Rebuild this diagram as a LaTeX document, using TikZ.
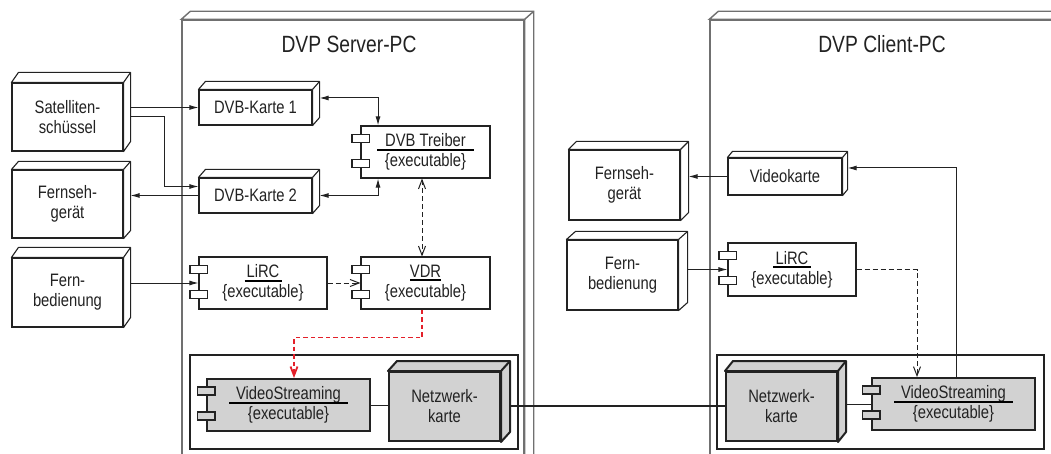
\documentclass[tikz,border=0pt]{standalone}
\usepackage{fontspec}
\setmainfont{Liberation Sans}[FakeStretch=0.82]
\usetikzlibrary{arrows.meta,calc}
\definecolor{ln}{HTML}{222222}
\definecolor{pcgray}{HTML}{707070}
\definecolor{fillgray}{HTML}{D2D2D2}
\definecolor{redl}{HTML}{E3202A}
\newcommand\ulname[2]{\makebox[#1]{#2}\llap{\textcolor{black}{\rule[-4pt]{#1}{2.1pt}}}}
% top and side faces of a 3D box node
\newcommand\cubefaces[4]{%
  \draw[#4] (#1.north west) -- ++(#2pt,#3pt) -- ([shift={(#2pt,#3pt)}]#1.north east)
    -- ([shift={(#2pt,#3pt)}]#1.south east) -- (#1.south east) -- (#1.north east) -- cycle;
  \draw[#4] (#1.north east) -- ++(#2pt,#3pt);}
% the two small port rectangles of a component node
\newcommand\compports[2]{%
  \draw[#2] ([shift={(-8.5pt,-9pt)}]#1.north west) rectangle ++(17.5pt,-8pt);
  \draw[#2] ([shift={(-8.5pt,-34pt)}]#1.north west) rectangle ++(17.5pt,-8pt);}
\begin{document}
\begin{tikzpicture}[x=1pt,y=-1pt,
  every node/.style={font=\fontsize{18}{20}\selectfont, text=ln, align=center},
  box3d/.style={draw=ln, line width=1.1pt, fill=white, inner sep=0pt},
  gbox3d/.style={draw=ln, line width=2pt, fill=fillgray, inner sep=0pt},
  face/.style={draw=ln, line width=1.1pt, fill=white, line join=round},
  gface/.style={draw=ln, line width=2pt, fill=fillgray, line join=round},
  pcface/.style={draw=pcgray, line width=1.4pt, fill=white},
  comp/.style={draw=ln, line width=1.1pt, fill=white, inner sep=0pt, minimum width=129pt, minimum height=52pt},
  gcomp/.style={comp, fill=fillgray, line width=2pt, minimum width=163pt},
  port/.style={draw=ln, line width=1.1pt, fill=white},
  gport/.style={draw=ln, line width=1.8pt, fill=fillgray},
  pcbox/.style={draw=pcgray, line width=1.4pt, inner sep=0pt},
  cont/.style={draw=ln, line width=2pt, inner sep=0pt},
  title/.style={font=\fontsize{23.5}{26}\selectfont},
  link/.style={draw=ln, line width=1pt},
  arr/.style={link, -{Latex[length=9pt,width=5pt]}},
  barr/.style={link, {Latex[length=9pt,width=5pt]}-{Latex[length=9pt,width=5pt]}},
  dep/.style={link, dash pattern=on 5pt off 3pt, -{Straight Barb[length=9pt,width=7pt]}},
  bdep/.style={link, dash pattern=on 5pt off 3pt, {Straight Barb[length=9pt,width=7pt]}-{Straight Barb[length=9pt,width=7pt]}},
  reddep/.style={draw=redl, line width=1.8pt, dash pattern=on 4.5pt off 3pt, -{Straight Barb[length=9pt,width=7pt]}},
  netlink/.style={draw=ln, line width=2.1pt}
]
\useasboundingbox (0,0) rectangle (1051,454);
\clip (0,0) rectangle (1051,454);

% PC boxes
\node[pcbox, minimum width=342pt, minimum height=450pt] (server) at (353,245) {};
\node[pcbox, minimum width=400pt, minimum height=450pt] (client) at (910,245) {};
\cubefaces{server}{9}{8}{pcface}
\cubefaces{client}{9}{8}{pcface}
\node[title] (stitle) at (349,44) {DVP Server-PC};
\node[title] (ctitle) at (882,44) {DVP Client-PC};

% left devices
\node[box3d, minimum width=111pt, minimum height=68pt] (sat) at (67.5,117) {Satelliten-\\schüssel};
\node[box3d, minimum width=111pt, minimum height=68pt] (tv1) at (67.5,204) {Fernseh-\\gerät};
\node[box3d, minimum width=111pt, minimum height=69pt] (fb1) at (67.5,292.5) {Fern-\\bedienung};
\cubefaces{sat}{7}{10}{face}
\cubefaces{tv1}{7}{8}{face}
\cubefaces{fb1}{7}{10}{face}

% server contents
\node[box3d, minimum width=113pt, minimum height=35pt] (dvb1) at (255.5,107.5) {DVB-Karte 1};
\node[box3d, minimum width=113pt, minimum height=35pt] (dvb2) at (255.5,195.5) {DVB-Karte 2};
\cubefaces{dvb1}{7}{8}{face}
\cubefaces{dvb2}{7}{8}{face}
\node[comp] (treiber) at (425.5,152) {\ulname{97pt}{DVB Treiber}\\\{executable\}};
\node[comp, minimum width=128pt] (lirc1) at (263,283) {\ulname{37pt}{LiRC}\\\{executable\}};
\node[comp] (vdr) at (425.5,283) {\ulname{31pt}{VDR}\\\{executable\}};
\compports{treiber}{port}
\compports{lirc1}{port}
\compports{vdr}{port}
\node[cont, minimum width=328pt, minimum height=94pt] (scont) at (354,402) {};
\node[gcomp] (vs1) at (288.5,405) {\ulname{119pt}{VideoStreaming}\\\{executable\}};
\compports{vs1}{gport}
\node[gbox3d, minimum width=111pt, minimum height=69pt] (nk1) at (444.5,406.5) {Netzwerk-\\karte};
\cubefaces{nk1}{9}{10}{gface}

% client side
\node[box3d, minimum width=111pt, minimum height=70pt] (tv2) at (624.5,185) {Fernseh-\\gerät};
\node[box3d, minimum width=111pt, minimum height=70pt] (fb2) at (622.5,275) {Fern-\\bedienung};
\cubefaces{tv2}{8}{8}{face}
\cubefaces{fb2}{9}{8}{face}
\node[box3d, minimum width=114pt, minimum height=37pt] (vk) at (785,176.5) {Videokarte};
\cubefaces{vk}{5}{6}{face}
\node[comp, minimum width=128pt, minimum height=53pt] (lirc2) at (792,269.5) {\ulname{38pt}{LiRC}\\\{executable\}};
\compports{lirc2}{port}
\node[cont, minimum width=327pt, minimum height=94pt] (ccont) at (880.5,402) {};
\node[gbox3d, minimum width=111pt, minimum height=69pt] (nk2) at (781.5,406.5) {Netzwerk-\\karte};
\cubefaces{nk2}{8}{10}{gface}
\node[gcomp] (vs2) at (953.5,404) {\ulname{119pt}{VideoStreaming}\\\{executable\}};
\compports{vs2}{gport}

% connectors server side
\draw[arr] ([xshift=7pt]sat.east |- dvb1.west) -- (dvb1.west);
\draw[arr] ([xshift=7pt]sat.east) -- ++(34pt,0pt) |- ([yshift=9pt]dvb2.west);
\draw[arr] (dvb2.west) -- ([xshift=7pt]tv1.east |- dvb2.west);
\draw[arr] ([xshift=7pt]fb1.east |- lirc1.west) -- (lirc1.west);
\draw[barr] ([xshift=7pt,yshift=9.5pt]dvb1.east) -| ([xshift=-47.5pt]treiber.north);
\draw[barr] ([xshift=7pt]dvb2.east) -| ([xshift=-47.5pt]treiber.south);
\draw[bdep] ([xshift=-3.5pt]treiber.south) -- ([xshift=-3.5pt]vdr.north);
\draw[dep] (lirc1.east) -- (vdr.west);
\draw[reddep] ([xshift=-3.5pt]vdr.south) -- ++(0pt,-28pt) -| ([xshift=5.5pt]vs1.north);
\draw[link] (vs1.east) -- (vs1.east -| nk1.west);
\draw[netlink] ([xshift=9pt,yshift=0.5pt]nk1.east) -- ([yshift=0.5pt]nk2.west);

% connectors client side
\draw[link] ([xshift=8pt]nk2.east |- vs2.west) -- (vs2.west);
\draw[arr] (vk.west) -- ([xshift=8pt]tv2.east |- vk.west);
\draw[arr] ([xshift=2.5pt]vs2.north) |- ([xshift=5pt,yshift=8.5pt]vk.east);
\draw[arr] ([xshift=9pt]fb2.east |- lirc2.west) -- (lirc2.west);
\draw[dep] (lirc2.east) -| ([xshift=-36.5pt]vs2.north);
\end{tikzpicture}
\end{document}
